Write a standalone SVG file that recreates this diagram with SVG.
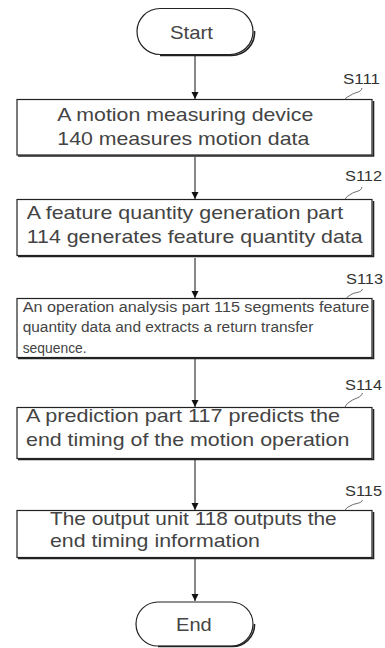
<svg xmlns="http://www.w3.org/2000/svg" width="385" height="648" viewBox="0 0 385 648">
<defs>
<marker id="arr" markerUnits="userSpaceOnUse" markerWidth="8" markerHeight="12" refX="7" refY="3.5" orient="auto">
<path d="M0,0 L7,3.5 L0,7 Z" fill="#111"/>
</marker>
<style>
.box{fill:#fff;stroke:#222;stroke-width:1.2}
.sh{fill:none;stroke:#222;stroke-width:1.6}
.t{font-family:"Liberation Sans",Arial,sans-serif;font-size:19px;fill:#444}
.ts{font-family:"Liberation Sans",Arial,sans-serif;font-size:14px;fill:#444}
.lb{font-family:"Liberation Sans",Arial,sans-serif;font-size:14px;fill:#333}
.ld{fill:none;stroke:#444;stroke-width:0.8}
.c{fill:none;stroke:#111;stroke-width:1}
</style>
</defs>
<rect width="385" height="648" fill="#fff"/>
<g id="connectors">
<path class="c" d="M195,56 V99" marker-end="url(#arr)"/>
<path class="c" d="M195,157 V199" marker-end="url(#arr)"/>
<path class="c" d="M195,258 V298" marker-end="url(#arr)"/>
<path class="c" d="M195,359 V407" marker-end="url(#arr)"/>
<path class="c" d="M195,460 V510" marker-end="url(#arr)"/>
<path class="c" d="M195,559 V601" marker-end="url(#arr)"/>
</g>
<g id="start">
<rect class="box" x="137" y="8.5" width="116" height="46" rx="23"/>
<path class="sh" d="M160,55.5 H231 A23,23 0 0 0 254.5,31"/>
<text class="t" x="170" y="38.5" textLength="43" lengthAdjust="spacingAndGlyphs">Start</text>
</g>
<g id="s111">
<rect class="box" x="17" y="99.5" width="355" height="55.5"/>
<path class="sh" d="M18,156 H373.5 V101"/>
<text class="t" x="57.3" y="120.5" textLength="256" lengthAdjust="spacingAndGlyphs">A motion measuring device</text>
<text class="t" x="57.3" y="145" textLength="252" lengthAdjust="spacingAndGlyphs">140 measures motion data</text>
<text class="lb" x="343" y="84" textLength="37" lengthAdjust="spacingAndGlyphs">S111</text>
<path class="ld" d="M362,88 C361,93 355,92 351,95 C348,97 346,97 345,99.5"/>
</g>
<g id="s112">
<rect class="box" x="17" y="199.5" width="355" height="56"/>
<path class="sh" d="M18,256.5 H373.5 V201"/>
<text class="t" x="26.7" y="218.5" textLength="316.6" lengthAdjust="spacingAndGlyphs">A feature quantity generation part</text>
<text class="t" x="26.7" y="243" textLength="336" lengthAdjust="spacingAndGlyphs">114 generates feature quantity data</text>
<text class="lb" x="345" y="181" textLength="37" lengthAdjust="spacingAndGlyphs">S112</text>
<path class="ld" d="M362,187 C361,192 355,191 351,194 C348,196 346,197 345,199.5"/>
</g>
<g id="s113">
<rect class="box" x="17" y="298.5" width="355" height="59"/>
<path class="sh" d="M18,358.5 H373.5 V300"/>
<text class="ts" x="22.7" y="311.5" textLength="346.6" lengthAdjust="spacingAndGlyphs">An operation analysis part 115 segments feature</text>
<text class="ts" x="22.7" y="332" textLength="290.6" lengthAdjust="spacingAndGlyphs">quantity data and extracts a return transfer</text>
<text class="ts" x="22.7" y="352.5" textLength="64" lengthAdjust="spacingAndGlyphs">sequence.</text>
<text class="lb" x="346" y="283.5" textLength="37" lengthAdjust="spacingAndGlyphs">S113</text>
<path class="ld" d="M362.5,289 C361,293 356,292 352,294 C349,296 347,297 346,298.5"/>
</g>
<g id="s114">
<rect class="box" x="17" y="407.5" width="355" height="51"/>
<path class="sh" d="M18,459.5 H373.5 V409"/>
<text class="t" x="26" y="422" textLength="314" lengthAdjust="spacingAndGlyphs">A prediction part 117 predicts the</text>
<text class="t" x="26" y="446" textLength="323.3" lengthAdjust="spacingAndGlyphs">end timing of the motion operation</text>
<text class="lb" x="345" y="389.5" textLength="37" lengthAdjust="spacingAndGlyphs">S114</text>
<path class="ld" d="M362.5,393 C361,398 355,398 351,401 C348,403 346,404 345,407.5"/>
</g>
<g id="s115">
<rect class="box" x="17" y="510.5" width="355" height="47"/>
<path class="sh" d="M18,558.5 H373.5 V512"/>
<text class="t" x="50" y="525" textLength="286.7" lengthAdjust="spacingAndGlyphs">The output unit 118 outputs the</text>
<text class="t" x="50" y="547" textLength="210" lengthAdjust="spacingAndGlyphs">end timing information</text>
<text class="lb" x="345" y="496" textLength="37" lengthAdjust="spacingAndGlyphs">S115</text>
<path class="ld" d="M362.5,500 C361,504 355,503 351,505.5 C348,507 346,508 345,510.5"/>
</g>
<g id="end">
<rect class="box" x="136" y="602" width="117" height="44" rx="22"/>
<path class="sh" d="M158,646.5 H231 A22,22 0 0 0 254.5,624"/>
<text class="t" x="176" y="631" textLength="35.7" lengthAdjust="spacingAndGlyphs">End</text>
</g>
</svg>
